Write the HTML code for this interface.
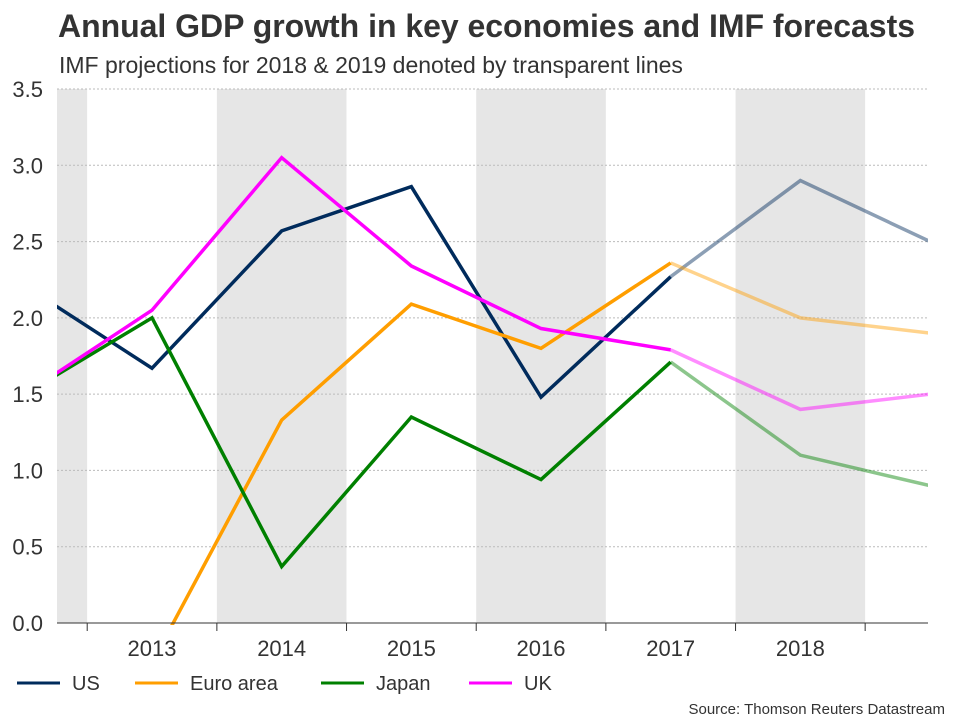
<!DOCTYPE html>
<html><head><meta charset="utf-8"><style>
html,body{margin:0;padding:0;background:#fff;font-family:"Liberation Sans",sans-serif;width:960px;height:720px;overflow:hidden;position:relative;}
svg{display:block;position:absolute;left:0;top:0}
</style></head><body>
<svg width="960" height="720">
<text x="58" y="37" font-size="32" font-weight="bold" fill="#333" textLength="857">Annual GDP growth in key economies and IMF forecasts</text>
<text x="59" y="73" font-size="23" fill="#333">IMF projections for 2018 &amp; 2019 denoted by transparent lines</text>
<defs><clipPath id="pc"><rect x="57" y="80" width="871" height="545"/></clipPath></defs>
<g id="bands"></g><g id="grid"></g><g id="lines" clip-path="url(#pc)"></g><g id="axes"></g>
<g>
<line x1="17" y1="683" x2="60" y2="683" stroke="#002b5c" stroke-width="3"/>
<text x="72" y="690" font-size="20" fill="#333">US</text>
<line x1="135" y1="683" x2="178" y2="683" stroke="#ff9e00" stroke-width="3"/>
<text x="190" y="690" font-size="20" fill="#333">Euro area</text>
<line x1="321" y1="683" x2="364" y2="683" stroke="#008000" stroke-width="3"/>
<text x="376" y="690" font-size="20" fill="#333">Japan</text>
<line x1="469" y1="683" x2="512" y2="683" stroke="#ff00ff" stroke-width="3"/>
<text x="524" y="690" font-size="20" fill="#333">UK</text>
</g>
<text x="945" y="714" text-anchor="end" font-size="15" fill="#333">Source: Thomson Reuters Datastream</text>
</svg>
<script>
const years=[2012,2013,2014,2015,2016,2017,2018,2019];
const us=[2.22,1.67,2.57,2.86,1.48,2.27,2.9,2.5];
const euro=[-0.9,-0.26,1.33,2.09,1.8,2.36,2.0,1.9];
const japan=[1.49,2.0,0.37,1.35,0.94,1.71,1.1,0.9];
const uk=[1.49,2.05,3.05,2.34,1.93,1.79,1.4,1.5];
const yTicks=[0,0.5,1.0,1.5,2.0,2.5,3.0,3.5];
const xLabels=[2013,2014,2015,2016,2017,2018];
const forecastStart=2017;
const NS="http://www.w3.org/2000/svg";
const x=y=>152+(y-2013)*129.67;
const yS=v=>623-v*(534/3.5);
function mk(t,a,p){const e=document.createElementNS(NS,t);for(const k in a)e.setAttribute(k,a[k]);p.appendChild(e);return e;}
const bands=document.getElementById('bands'),grid=document.getElementById('grid'),lines=document.getElementById('lines'),axes=document.getElementById('axes');
[2012,2014,2016,2018].forEach(yr=>{
 const x0=Math.max(57,x(yr)-64.8),x1=Math.min(928,x(yr)+64.8);
 const r=mk('rect',{x:x0,y:yS(3.5),width:x1-x0,height:yS(0)-yS(3.5),fill:'#e6e6e6'},bands);
 
 
});
yTicks.forEach(v=>{
 const l=mk('line',{x1:57,x2:928,y1:yS(v),y2:yS(v),stroke:'#bbb','stroke-dasharray':'2,2'},grid);
 
 
 const t=mk('text',{x:43,y:yS(v)+8,'text-anchor':'end','font-size':22,fill:'#333'},axes);
 t.textContent=v.toFixed(1);
 
 
});
const ax=mk('line',{x1:57,x2:928,y1:yS(0),y2:yS(0),stroke:'#333','stroke-width':1},axes);


xLabels.forEach(yr=>{
 const tk=mk('line',{x1:x(yr)-64.8,x2:x(yr)-64.8,y1:yS(0),y2:yS(0)+8,stroke:'#333'},axes);
 
 
 const t=mk('text',{x:x(yr),y:656,'text-anchor':'middle','font-size':22,fill:'#333'},axes);
 t.textContent=yr;
 
 
});
const tk2=mk('line',{x1:x(2018)+64.8,x2:x(2018)+64.8,y1:yS(0),y2:yS(0)+8,stroke:'#333'},axes);


const series=[['us',us,'#002b5c'],['euro',euro,'#ff9e00'],['japan',japan,'#008000'],['uk',uk,'#ff00ff']];
series.forEach(([n,vals,c])=>{
 const fi=years.indexOf(forecastStart);
 const hist=years.slice(0,fi+1).map((yr,i)=>x(yr)+','+yS(vals[i])).join(' ');
 const fc=years.slice(fi).map((yr,i)=>x(yr)+','+yS(vals[fi+i])).join(' ');
 const f=mk('polyline',{points:fc,fill:'none',stroke:c,'stroke-width':3.5,'stroke-opacity':0.45},lines);
 
 
 const h=mk('polyline',{points:hist,fill:'none',stroke:c,'stroke-width':3.5},lines);
 
 
});
</script>
</body></html>
